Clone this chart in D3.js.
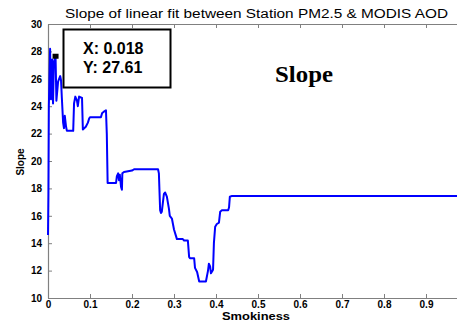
<!DOCTYPE html>
<html>
<head>
<meta charset="utf-8">
<script src="https://cdn.jsdelivr.net/npm/d3@7"></script>
<style>
  html, body { margin: 0; padding: 0; background: #fff; }
  svg { display: block; }
</style>
</head>
<body>
<svg id="chart" width="457" height="322"></svg>
<script>
// Smokiness values along the x axis
const smokiness = [
  0.000, 0.001, 0.002, 0.005, 0.007, 0.010, 0.012, 0.014, 0.018, 0.020,
  0.024, 0.029, 0.031, 0.033, 0.036, 0.038, 0.040, 0.043, 0.045, 0.060,
  0.062, 0.065, 0.069, 0.071, 0.074, 0.081, 0.083, 0.090, 0.095, 0.098,
  0.100, 0.126, 0.129, 0.133, 0.138, 0.140, 0.142, 0.162, 0.164, 0.167,
  0.169, 0.171, 0.174, 0.176, 0.177, 0.181, 0.200, 0.205, 0.262, 0.264,
  0.267, 0.269, 0.271, 0.276, 0.279, 0.283, 0.288, 0.290, 0.295, 0.300,
  0.305, 0.307, 0.321, 0.324, 0.333, 0.336, 0.338, 0.348, 0.350, 0.355,
  0.360, 0.376, 0.381, 0.383, 0.386, 0.388, 0.392, 0.393, 0.395, 0.398,
  0.402, 0.407, 0.410, 0.414, 0.429, 0.431, 0.433, 0.438, 1.000
];
// Slope of the linear fit at each smokiness value
const slope = [
  14.6, 17.6, 24.0, 28.2, 24.5, 27.4, 24.2, 27.2, 27.61, 24.4,
  25.8, 26.2, 25.9, 24.6, 22.8, 22.4, 23.3, 22.5, 22.2, 22.2,
  24.2, 24.7, 24.4, 24.0, 24.7, 24.6, 22.3, 22.5, 22.8, 23.1,
  23.2, 23.2, 23.5, 23.6, 23.7, 22.0, 18.4, 18.4, 18.9, 19.1,
  18.6, 19.0, 18.1, 17.9, 19.1, 19.2, 19.3, 19.4, 19.4, 19.1,
  16.4, 16.2, 16.3, 17.6, 17.7, 17.4, 16.5, 16.0, 15.8, 15.0,
  14.5, 14.3, 14.3, 14.2, 14.2, 13.0, 12.9, 12.9, 12.2, 11.9,
  11.2, 11.2, 12.0, 12.5, 12.3, 11.8, 12.0, 12.1, 14.0, 15.2,
  15.4, 15.5, 16.3, 16.4, 16.4, 16.6, 17.4, 17.45, 17.45
];
// Highlighted data tip
const tipX = [0.018];
const tipY = [27.61];
const tipLabels = ["X: 0.018", "Y: 27.61"];

const xTicks = [0, 0.1, 0.2, 0.3, 0.4, 0.5, 0.6, 0.7, 0.8, 0.9];
const xTickLabels = ["0", "0.1", "0.2", "0.3", "0.4", "0.5", "0.6", "0.7", "0.8", "0.9"];
const yTicks = [10, 12, 14, 16, 18, 20, 22, 24, 26, 28, 30];

const titleText = "Slope of linear fit between Station PM2.5 & MODIS AOD";
const xLabel = "Smokiness";
const yLabel = "Slope";
const noteText = "Slope";

const svg = d3.select("#chart");
const plotLeft = 48, plotRight = 468, plotTop = 24, plotBottom = 298;

const x = d3.scaleLinear().domain([0, 1]).range([plotLeft, plotRight]);
const y = d3.scaleLinear().domain([10, 30]).range([plotBottom, plotTop]);

const axisColor = "#808080";
const tickFont = "Liberation Sans, Arial, sans-serif";

function styleAxis(g) {
  g.select(".domain").attr("stroke", axisColor).attr("stroke-width", 1.2);
  g.selectAll(".tick line").attr("stroke", axisColor);
  g.selectAll(".tick text")
    .attr("fill", "#000")
    .attr("font-family", tickFont)
    .attr("font-weight", "bold")
    .attr("font-size", 10);
}

// bottom axis
svg.append("g")
  .attr("transform", `translate(0,${plotBottom})`)
  .call(d3.axisBottom(x).tickValues(xTicks).tickSizeInner(-4).tickSizeOuter(0)
    .tickPadding(3).tickFormat((d, i) => xTickLabels[i]))
  .call(styleAxis);

// top axis (ticks only)
svg.append("g")
  .attr("transform", `translate(0,${plotTop})`)
  .call(d3.axisTop(x).tickValues(xTicks).tickSizeInner(-4).tickSizeOuter(0).tickFormat(""))
  .call(styleAxis);

// left axis
svg.append("g")
  .attr("transform", `translate(${plotLeft},0)`)
  .call(d3.axisLeft(y).tickValues(yTicks).tickSizeInner(-4).tickSizeOuter(0).tickPadding(6))
  .call(styleAxis);

// slope curve
const pts = smokiness.map((d, i) => [d, slope[i]]);
svg.append("path")
  .datum(pts)
  .attr("fill", "none")
  .attr("stroke", "#0000ff")
  .attr("stroke-width", 2)
  .attr("stroke-linejoin", "round")
  .attr("d", d3.line().x(d => x(d[0])).y(d => y(d[1])));

// title
svg.append("text")
  .attr("x", 256.5).attr("y", 18)
  .attr("text-anchor", "middle")
  .attr("font-family", tickFont)
  .attr("font-size", 12.5)
  .attr("textLength", 383)
  .attr("lengthAdjust", "spacingAndGlyphs")
  .text(titleText);

// axis labels
svg.append("text")
  .attr("x", 256).attr("y", 320)
  .attr("text-anchor", "middle")
  .attr("font-family", tickFont)
  .attr("font-weight", "bold")
  .attr("font-size", 10.5)
  .attr("textLength", 68)
  .attr("lengthAdjust", "spacingAndGlyphs")
  .text(xLabel);

svg.append("text")
  .attr("transform", "translate(24,162) rotate(-90)")
  .attr("text-anchor", "middle")
  .attr("font-family", tickFont)
  .attr("font-weight", "bold")
  .attr("font-size", 10)
  .text(yLabel);

// data tip marker
svg.selectAll("rect.tipmark")
  .data(tipX)
  .enter().append("rect")
  .attr("class", "tipmark")
  .attr("x", d => x(d) - 3)
  .attr("y", (d, i) => y(tipY[i]) - 3)
  .attr("width", 6).attr("height", 5)
  .attr("fill", "#000");

// data tip box
svg.append("rect")
  .attr("x", 63.5).attr("y", 29.5)
  .attr("width", 107).attr("height", 58)
  .attr("fill", "#fff")
  .attr("stroke", "#000")
  .attr("stroke-width", 2);

svg.selectAll("text.tip")
  .data(tipLabels)
  .enter().append("text")
  .attr("class", "tip")
  .attr("x", 83)
  .attr("y", (d, i) => 54 + i * 19)
  .attr("font-family", tickFont)
  .attr("font-weight", "bold")
  .attr("font-size", 16)
  .text(d => d);

// annotation
svg.append("text")
  .attr("x", 275).attr("y", 82)
  .attr("font-family", "Liberation Serif, 'DejaVu Serif', serif")
  .attr("font-weight", "bold")
  .attr("font-size", 23)
  .attr("textLength", 58)
  .attr("lengthAdjust", "spacingAndGlyphs")
  .text(noteText);
</script>
</body>
</html>
